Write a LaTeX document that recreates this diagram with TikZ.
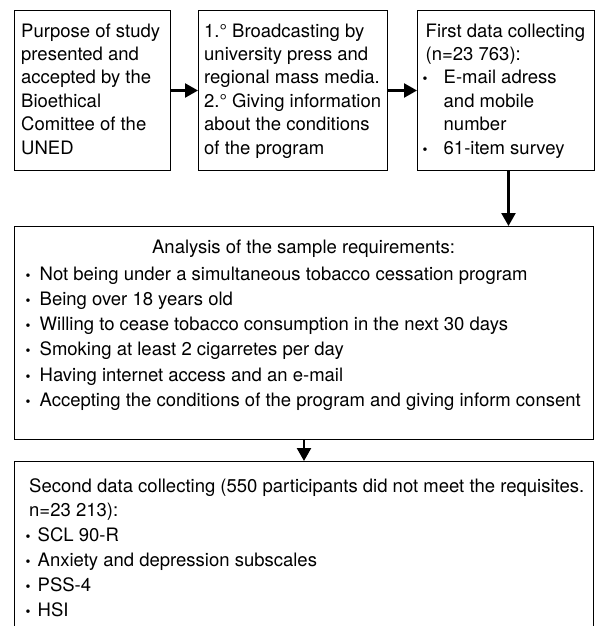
\documentclass[tikz,border=0pt]{standalone}
\usepackage{fontspec}
\setmainfont{TeX Gyre Heros}
\usetikzlibrary{arrows.meta}
\newcommand\mybul[1]{\makebox[#1][l]{\hspace*{1pt}\fontsize{14}{14}\selectfont •}}
\begin{document}
\begin{tikzpicture}[x=1pt,y=1pt,
  box/.style={draw, line width=1pt, inner sep=0pt, anchor=north west},
  txt/.style={inner sep=0pt, anchor=north west, align=left, font=\fontsize{18.5}{23.4}\selectfont},
  txtb/.style={inner sep=0pt, anchor=north west, align=left, font=\fontsize{18.5}{25.2}\selectfont},
  txtc/.style={inner sep=0pt, anchor=north west, align=left, font=\fontsize{18.5}{24.8}\selectfont},
  conn/.style={line width=2.4pt, -{Triangle[length=13pt,width=14pt]}}]
\useasboundingbox (0,0) rectangle (597,-626);
\clip (0,0) rectangle (597,-626);
% boxes
\node[box, minimum width=156pt, minimum height=160pt] (b1) at (14,-10) {};
\node[box, minimum width=189pt, minimum height=160pt] (b2) at (198,-10) {};
\node[box, minimum width=177pt, minimum height=160pt] (b3) at (417,-10) {};
\node[box, minimum width=579pt, minimum height=213pt] (b4) at (14,-226) {};
\node[box, minimum width=579pt, minimum height=200pt] (b5) at (14,-461) {};
% texts
\node[txt] (t1) at (21,-20.6) {\strut Purpose of study\\presented and\\accepted by the\\Bioethical\\Comittee of the\\UNED};
\node[txt] (t2) at (204,-20.6) {\strut 1.° Broadcasting by\\university press and\\regional mass media.\\2.° Giving information\\about the conditions\\of the program};
\node[txt] (t3) at (425.5,-20.6) {\strut First data collecting\\(n=23 763):\\\hspace*{-4pt}\mybul{22pt}E-mail adress\\\hspace*{18pt}and mobile\\\hspace*{18pt}number\\\hspace*{-4pt}\mybul{22pt}61-item survey};
\node[inner sep=0pt, anchor=base, font=\fontsize{18.5}{25.2}\selectfont] (t4h) at (303.5,-253) {Analysis of the sample requirements:};
\node[txtb] (t4) at (24.5,-262.4) {\strut\mybul{15pt}Not being under a simultaneous tobacco cessation program\\\mybul{15pt}Being over 18 years old\\\mybul{15pt}Willing to cease tobacco consumption in the next 30 days\\\mybul{15pt}Smoking at least 2 cigarretes per day\\\mybul{15pt}Having internet access and an e-mail\\\mybul{15pt}Accepting the conditions of the program and giving inform consent};
\node[txtc] (t5) at (29,-474.6) {\strut Second data collecting (550 participants did not meet the requisites.\\n=23 213):\\\hspace*{-4.5pt}\mybul{13pt}SCL 90-R\\\hspace*{-4.5pt}\mybul{13pt}Anxiety and depression subscales\\\hspace*{-4.5pt}\mybul{13pt}PSS-4\\\hspace*{-4.5pt}\mybul{13pt}HSI};
% connectors
\coordinate (a3) at ([xshift=2.5pt]b3.south);
\draw[conn] (b1.east) -- (b2.west);
\draw[conn] (b2.east) -- (b3.west);
\draw[conn] (a3) -- (a3 |- b4.north);
\draw[conn] (b4.south) -- (b5.north);
\end{tikzpicture}
\end{document}
